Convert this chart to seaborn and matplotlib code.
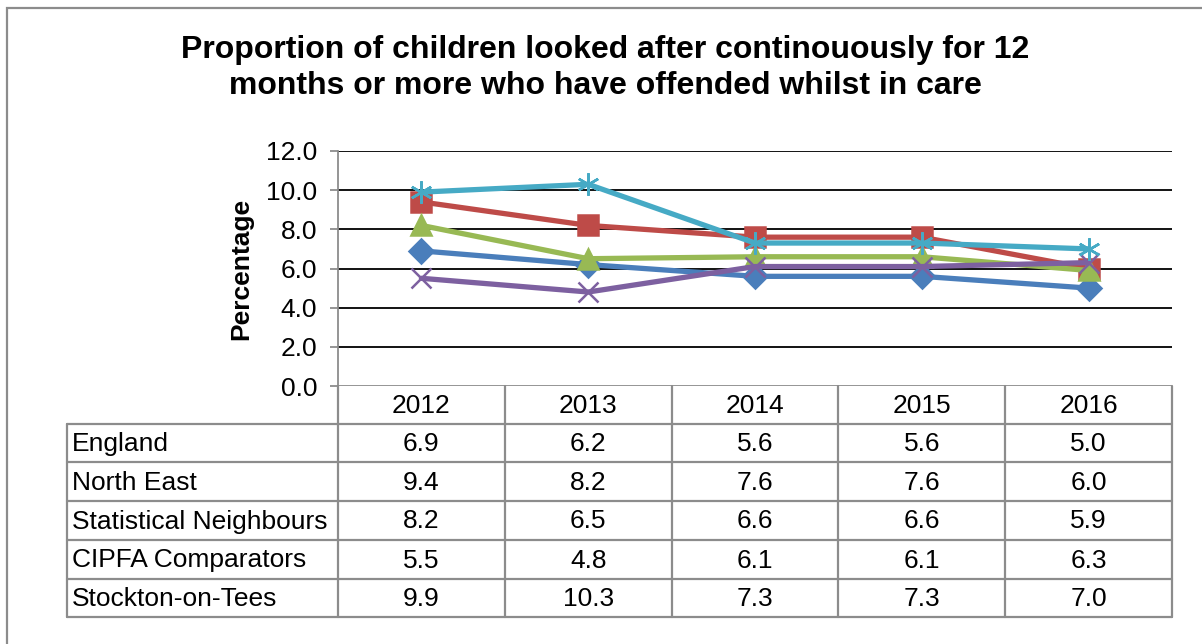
import matplotlib
matplotlib.use("Agg")
import matplotlib.pyplot as plt
from matplotlib.patches import Rectangle
from matplotlib.lines import Line2D
import seaborn as sns
import pandas as pd

sns.set_theme(style="white")
plt.rcParams["font.family"] = ["Liberation Sans", "DejaVu Sans"]
plt.rcParams["text.color"] = "black"
plt.rcParams["axes.labelcolor"] = "black"

years = ["2012", "2013", "2014", "2015", "2016"]
england = [6.9, 6.2, 5.6, 5.6, 5.0]
north_east = [9.4, 8.2, 7.6, 7.6, 6.0]
stat_neighbours = [8.2, 6.5, 6.6, 6.6, 5.9]
cipfa = [5.5, 4.8, 6.1, 6.1, 6.3]
stockton = [9.9, 10.3, 7.3, 7.3, 7.0]

series_names = ["England", "North East", "Statistical Neighbours",
                "CIPFA Comparators", "Stockton-on-Tees"]
series_values = [england, north_east, stat_neighbours, cipfa, stockton]
colors = ["#4A7EBB", "#BE4B48", "#98B954", "#7D60A0", "#46AAC5"]
markers = ["D", "s", "^", "x", (6, 2, 0)]
marker_sizes = [12, 14, 14, 14, 16]

W, H = 1202, 644
fig = plt.figure(figsize=(W / 100, H / 100), dpi=100)

def fx(px):
    return px / W

def fy(py):
    return 1 - py / H

# outer frame of the chart area
fig.patches.append(Rectangle((fx(7), fy(1400)), fx(2000), fy(8) - fy(1400),
                             transform=fig.transFigure, fill=False,
                             edgecolor="#8c8c8c", linewidth=1.6))

# plot area
left, right, top, bottom = 338, 1172, 151, 386
ax = fig.add_axes([fx(left), fy(bottom), fx(right) - fx(left), fy(top) - fy(bottom)])

rows = []
for name, vals in zip(series_names, series_values):
    for i, v in enumerate(vals):
        rows.append({"series": name, "x": i, "value": v})
df = pd.DataFrame(rows)

for name, color, mk, ms in zip(series_names, colors, markers, marker_sizes):
    sub = df[df["series"] == name]
    sns.lineplot(data=sub, x="x", y="value", ax=ax, color=color, linewidth=3.8,
                 marker=mk, markersize=ms, markeredgecolor=color,
                 markerfacecolor=color, markeredgewidth=1.8, legend=False,
                 zorder=3)

ax.set_xlim(-0.5, len(years) - 0.5)
ax.set_ylim(0, 12)
ax.set_yticks([0, 2, 4, 6, 8, 10, 12])
ax.set_yticklabels([f"{t:.1f}" for t in [0, 2, 4, 6, 8, 10, 12]], fontsize=19)
ax.set_xticks([])
ax.set_xlabel("")
ax.set_ylabel("Percentage", fontsize=19, fontweight="bold", labelpad=9)
for t in [2, 4, 6, 8, 10, 12]:
    ax.axhline(t, color="black", linewidth=1.3, zorder=1)
for s in ["top", "right", "bottom"]:
    ax.spines[s].set_visible(False)
ax.spines["left"].set_color("#8c8c8c")
ax.spines["left"].set_linewidth(1.3)
ax.axhline(0, color="#8c8c8c", linewidth=1.3, zorder=1)
ax.tick_params(axis="y", left=True, length=6, width=1.3, color="#8c8c8c",
               pad=9, labelcolor="black")
ax.patch.set_alpha(0)

# data table under the plot
tbl_left = 67
row_top = [386, 424, 462, 501, 540, 579]
tbl_bottom = 617
col_w = (right - left) / len(years)
grey = "#8c8c8c"

def hline(y, x0, x1):
    fig.add_artist(Line2D([fx(x0), fx(x1)], [fy(y), fy(y)], color=grey,
                          linewidth=1.6, transform=fig.transFigure))

def vline(x, y0, y1):
    fig.add_artist(Line2D([fx(x), fx(x)], [fy(y0), fy(y1)], color=grey,
                          linewidth=1.6, transform=fig.transFigure))

for y in row_top[1:] + [tbl_bottom]:
    hline(y, tbl_left, right)
vline(tbl_left, row_top[1], tbl_bottom)
vline(left, bottom, tbl_bottom)
for i in range(1, len(years) + 1):
    vline(left + i * col_w, bottom, tbl_bottom)

for i, yr in enumerate(years):
    fig.text(fx(left + (i + 0.5) * col_w), fy((row_top[0] + row_top[1]) / 2 + 1),
             yr, ha="center", va="center", fontsize=19)

for r, (name, vals) in enumerate(zip(series_names, series_values)):
    yc = fy((row_top[r + 1] + (row_top[r + 2] if r + 2 < len(row_top) else tbl_bottom)) / 2 + 1)
    fig.text(fx(tbl_left + 5), yc, name, ha="left", va="center", fontsize=19)
    for i, v in enumerate(vals):
        fig.text(fx(left + (i + 0.5) * col_w), yc, f"{v:.1f}",
                 ha="center", va="center", fontsize=19)

fig.text(fx(605), fy(68), "Proportion of children looked after continouously for 12\n"
         "months or more who have offended whilst in care",
         ha="center", va="center", fontsize=23, fontweight="bold",
         linespacing=1.25)

fig.savefig("out.png", dpi=100)
